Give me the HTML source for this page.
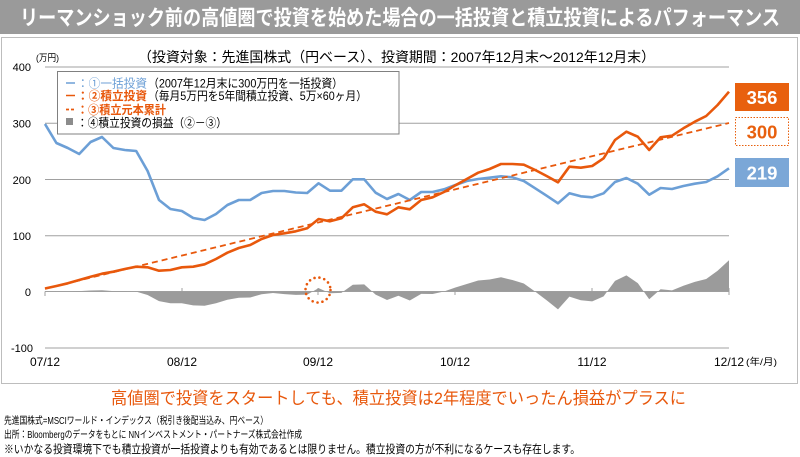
<!DOCTYPE html>
<html><head><meta charset="utf-8">
<style>
html,body{margin:0;padding:0;background:#fff;}
svg{display:block;}
text{font-family:"Liberation Sans","Noto Sans CJK JP",sans-serif;}
</style></head>
<body>
<svg width="800" height="457" viewBox="0 0 800 457" xmlns="http://www.w3.org/2000/svg">
<!-- title bar -->
<rect x="0" y="0" width="800" height="34" fill="#9a9a9a"/>
<text x="20" y="25" font-size="21" font-weight="bold" fill="#fff" textLength="760" lengthAdjust="spacingAndGlyphs">リーマンショック前の高値圏で投資を始めた場合の一括投資と積立投資によるパフォーマンス</text>
<!-- chart box -->
<rect x="1.5" y="37.5" width="796" height="346" fill="#fff" stroke="#bdbdbd" stroke-width="1"/>
<!-- subtitle -->
<text x="138" y="62" font-size="14" fill="#000" textLength="517" lengthAdjust="spacingAndGlyphs">（投資対象：先進国株式（円ベース）、投資期間：2007年12月末～2012年12月末）</text>
<text x="36" y="61" font-size="9.5" fill="#000" textLength="23" lengthAdjust="spacingAndGlyphs">(万円)</text>
<!-- gridlines -->
<g stroke="#a0a0a0" stroke-width="1">
<line x1="45" y1="67" x2="729" y2="67"/>
<line x1="45" y1="123.2" x2="729" y2="123.2"/>
<line x1="45" y1="179.5" x2="729" y2="179.5"/>
<line x1="45" y1="235.7" x2="729" y2="235.7"/>
<line x1="45" y1="348" x2="729" y2="348"/>
<line x1="45" y1="291.5" x2="729" y2="291.5"/>
<line x1="45" y1="291.5" x2="45" y2="296"/>
<line x1="182" y1="288" x2="182" y2="295"/>
<line x1="318" y1="288" x2="318" y2="295"/>
<line x1="455" y1="288" x2="455" y2="295"/>
<line x1="592" y1="288" x2="592" y2="295"/>
<line x1="729" y1="288" x2="729" y2="295"/>
</g>
<!-- y labels -->
<g font-size="11" fill="#000" text-anchor="end">
<text x="31" y="71">400</text>
<text x="31" y="127.5">300</text>
<text x="31" y="184">200</text>
<text x="31" y="240">100</text>
<text x="31" y="296">0</text>
<text x="33" y="352">-100</text>
</g>
<!-- x labels -->
<g font-size="12" fill="#000" text-anchor="middle">
<text x="45" y="366">07/12</text>
<text x="182" y="366">08/12</text>
<text x="318" y="366">09/12</text>
<text x="455" y="366">10/12</text>
<text x="592" y="366">11/12</text>
<text x="729" y="366">12/12</text>
</g>
<text x="746" y="365" font-size="9.5" fill="#000" textLength="31" lengthAdjust="spacingAndGlyphs">(年/月)</text>
<!-- gray area -->
<polygon fill="#9b9b9b" points="45,291.5 45,291.3 56.4,291.6 67.8,291.6 79.2,291.1 90.6,290.5 102,290.3 113.4,291.1 124.8,291.1 136.2,291.6 147.6,295 159,301.1 170.4,303.2 181.8,303.2 193.2,305.4 204.6,305.8 216,303.2 227.4,299.7 238.8,297.8 250.2,297.5 261.6,294.3 273,293 284.4,294.1 295.8,294.9 307.2,294.6 318.6,288.1 330,293.2 341.4,292.9 352.8,284.7 364.2,284.4 375.6,294.6 387,300 398.4,295.7 409.8,300.5 421.2,293.9 432.6,294 444,291.5 455.4,287.5 466.8,284 478.2,280.5 489.6,279.5 501,277.3 512.4,280 523.8,283.5 535.2,291.6 546.6,300.3 558,309.4 569.4,296.6 580.8,300.3 592.2,301.4 603.6,296.4 615,280.9 626.4,275.4 637.8,283.1 649.2,299.2 660.6,289.2 672,290.4 683.4,285.8 694.8,281.9 706.2,279 717.6,270.8 729,260.2 729,291.5"/>
<!-- blue line -->
<polyline fill="none" stroke="#6c9fd6" stroke-width="2.6" stroke-linejoin="round" points="45,124 56.4,143 67.8,148 79.2,154 90.6,142 102,137 113.4,148 124.8,150 136.2,151 147.6,171 159,200 170.4,209 181.8,211 193.2,218 204.6,220 216,214 227.4,205 238.8,200 250.2,200 261.6,193 273,191 284.4,191 295.8,192.5 307.2,193 318.6,183.3 330,190.7 341.4,190.7 352.8,179.3 364.2,179.3 375.6,192.7 387,199 398.4,194 409.8,200 421.2,192 432.6,192 444,189.3 455.4,185 466.8,181 478.2,179 489.6,177.7 501,176.3 512.4,177.3 523.8,181 535.2,188.3 546.6,195.7 558,203.3 569.4,193.3 580.8,196.3 592.2,197.3 603.6,193.3 615,182 626.4,178 637.8,183.7 649.2,194.7 660.6,188 672,189 683.4,186 694.8,183.7 706.2,182 717.6,176.3 729,168.3"/>
<!-- dashed -->
<line x1="45" y1="288.7" x2="729" y2="123" stroke="#e8580c" stroke-width="1.8" stroke-dasharray="6,4"/>
<!-- orange line -->
<polyline fill="none" stroke="#e8580c" stroke-width="2.6" stroke-linejoin="round" points="45,288.5 56.4,286 67.8,283.3 79.2,280 90.6,276.7 102,273.7 113.4,271.7 124.8,269 136.2,266.7 147.6,267.3 159,270.7 170.4,270 181.8,267.3 193.2,266.7 204.6,264.3 216,259 227.4,252.7 238.8,248 250.2,245 261.6,239 273,235 284.4,233.3 295.8,231.3 307.2,228.3 318.6,219 330,221.3 341.4,218.3 352.8,207.3 364.2,204.3 375.6,211.7 387,214.3 398.4,207.3 409.8,209.3 421.2,200 432.6,197.3 444,192 455.4,185.3 466.8,179 478.2,172.7 489.6,169 501,164 512.4,164 523.8,164.7 535.2,170 546.6,176 558,182.3 569.4,166.7 580.8,167.7 592.2,166 603.6,158.3 615,140 626.4,131.7 637.8,136.7 649.2,150 660.6,137.3 672,135.7 683.4,128.3 694.8,121.7 706.2,116 717.6,105 729,91.7"/>
<!-- dotted circle -->
<circle cx="318" cy="290" r="12.5" fill="none" stroke="#e8580c" stroke-width="2.6" stroke-dasharray="0 5" stroke-linecap="round"/>
<!-- legend -->
<rect x="57.5" y="71.5" width="341.5" height="62.5" fill="#fff" stroke="#808080" stroke-width="1"/>
<line x1="66" y1="83" x2="75" y2="83" stroke="#6c9fd6" stroke-width="1.5"/>
<text x="77" y="87.5" font-size="12" fill="#6c9fd6" textLength="70" lengthAdjust="spacingAndGlyphs">：①一括投資</text>
<text x="148" y="87.5" font-size="12" fill="#000" textLength="195" lengthAdjust="spacingAndGlyphs">（2007年12月末に300万円を一括投資）</text>
<line x1="66" y1="95.5" x2="75" y2="95.5" stroke="#e8580c" stroke-width="1.5"/>
<text x="77" y="100" font-size="12" font-weight="bold" fill="#e8580c" textLength="70" lengthAdjust="spacingAndGlyphs">：②積立投資</text>
<text x="148" y="100" font-size="12" fill="#000" textLength="219" lengthAdjust="spacingAndGlyphs">（毎月5万円を5年間積立投資、5万×60ヶ月）</text>
<line x1="66" y1="109.5" x2="76" y2="109.5" stroke="#e8580c" stroke-width="1.8" stroke-dasharray="3,2"/>
<text x="77" y="114" font-size="12" font-weight="bold" fill="#e8580c" textLength="89" lengthAdjust="spacingAndGlyphs">：③積立元本累計</text>
<rect x="66" y="118" width="7" height="7" fill="#8c8c8c"/>
<text x="77" y="127" font-size="12" fill="#000" textLength="150" lengthAdjust="spacingAndGlyphs">：④積立投資の損益（②－③）</text>
<!-- value boxes -->
<rect x="735" y="83" width="54" height="28" fill="#e8600e"/>
<text x="762" y="104" font-family="DejaVu Sans" font-size="18.5" font-weight="bold" fill="#fff" text-anchor="middle">356</text>
<rect x="735.5" y="117.5" width="53" height="28" fill="#fff" stroke="#e8600e" stroke-width="1" stroke-dasharray="1.5,1.5"/>
<text x="762" y="138.5" font-family="DejaVu Sans" font-size="18.5" font-weight="bold" fill="#e8600e" text-anchor="middle">300</text>
<rect x="735" y="158" width="54" height="29" fill="#7ba7d7"/>
<text x="762" y="179.5" font-family="DejaVu Sans" font-size="18.5" font-weight="bold" fill="#fff" text-anchor="middle">219</text>
<!-- footer -->
<text x="111" y="404" font-size="17" fill="#e8580c" textLength="575" lengthAdjust="spacingAndGlyphs">高値圏で投資をスタートしても、積立投資は2年程度でいったん損益がプラスに</text>
<text x="4" y="424" font-size="10" fill="#000" textLength="264" lengthAdjust="spacingAndGlyphs">先進国株式=MSCIワールド・インデックス（税引き後配当込み、円ベース）</text>
<text x="4" y="438" font-size="10" fill="#000" textLength="298" lengthAdjust="spacingAndGlyphs">出所：Bloombergのデータをもとに NNインベストメント・パートナーズ株式会社作成</text>
<text x="4" y="453" font-size="11.5" fill="#000" textLength="576" lengthAdjust="spacingAndGlyphs">※いかなる投資環境下でも積立投資が一括投資よりも有効であるとは限りません。積立投資の方が不利になるケースも存在します。</text>
</svg>
</body></html>
